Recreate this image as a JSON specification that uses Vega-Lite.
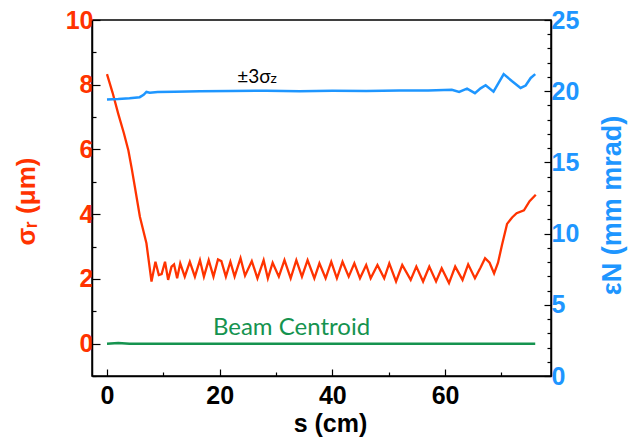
{
  "$schema": "https://vega.github.io/schema/vega-lite/v6.json",
  "width": 459,
  "height": 356,
  "autosize": {"type": "none"},
  "padding": {"left": 92, "top": 20, "right": 77, "bottom": 67},
  "background": "white",
  "config": {
    "view": {"stroke": "black", "strokeWidth": 1.5},
    "axis": {
      "grid": false,
      "domainColor": "black",
      "domainWidth": 1.5,
      "tickColor": "black",
      "tickWidth": 1.2,
      "labelFont": "Liberation Sans",
      "labelFontWeight": "bold",
      "labelFontSize": 25,
      "titleFont": "Liberation Sans",
      "titleFontWeight": "bold",
      "titleFontSize": 26
    }
  },
  "datasets": {
    "red": [
      {"s": 0, "sigma": 8.33}, {"s": 1, "sigma": 7.75}, {"s": 2, "sigma": 7.1}, {"s": 3, "sigma": 6.5},
      {"s": 3.8, "sigma": 5.97}, {"s": 4.4, "sigma": 5.4}, {"s": 4.95, "sigma": 4.84}, {"s": 5.84, "sigma": 3.92},
      {"s": 7.0, "sigma": 3.1}, {"s": 7.9, "sigma": 1.92}, {"s": 8.6, "sigma": 2.53}, {"s": 9.2, "sigma": 2.12},
      {"s": 9.7, "sigma": 2.15}, {"s": 10.3, "sigma": 2.53}, {"s": 10.85, "sigma": 1.97}, {"s": 11.45, "sigma": 2.38},
      {"s": 11.9, "sigma": 2.45}, {"s": 12.45, "sigma": 2.02}, {"s": 13.0, "sigma": 2.48}, {"s": 13.8, "sigma": 2.07},
      {"s": 14.7, "sigma": 2.53}, {"s": 15.6, "sigma": 2.07}, {"s": 16.5, "sigma": 2.58}, {"s": 17.2, "sigma": 2.07},
      {"s": 18.05, "sigma": 2.58}, {"s": 18.9, "sigma": 2.07}, {"s": 19.7, "sigma": 2.6}, {"s": 20.3, "sigma": 2.55},
      {"s": 21.1, "sigma": 2.07}, {"s": 21.9, "sigma": 2.53}, {"s": 22.65, "sigma": 2.07}, {"s": 23.7, "sigma": 2.64},
      {"s": 24.5, "sigma": 2.1}, {"s": 25.7, "sigma": 2.55}, {"s": 26.7, "sigma": 2.02}, {"s": 27.8, "sigma": 2.58},
      {"s": 28.55, "sigma": 2.02}, {"s": 29.4, "sigma": 2.5}, {"s": 30.5, "sigma": 2.07}, {"s": 31.5, "sigma": 2.58},
      {"s": 32.6, "sigma": 2.02}, {"s": 33.6, "sigma": 2.58}, {"s": 34.6, "sigma": 2.07}, {"s": 35.6, "sigma": 2.58},
      {"s": 36.8, "sigma": 2.02}, {"s": 37.7, "sigma": 2.48}, {"s": 38.8, "sigma": 2.02}, {"s": 39.8, "sigma": 2.53},
      {"s": 40.8, "sigma": 2.02}, {"s": 41.8, "sigma": 2.53}, {"s": 42.9, "sigma": 2.07}, {"s": 43.9, "sigma": 2.48},
      {"s": 44.9, "sigma": 2.02}, {"s": 46.0, "sigma": 2.43}, {"s": 46.8, "sigma": 2.02}, {"s": 48.0, "sigma": 2.43},
      {"s": 49.2, "sigma": 2.02}, {"s": 50.1, "sigma": 2.48}, {"s": 51.3, "sigma": 1.92}, {"s": 52.4, "sigma": 2.43},
      {"s": 53.9, "sigma": 1.97}, {"s": 54.9, "sigma": 2.38}, {"s": 56.1, "sigma": 1.92}, {"s": 57.2, "sigma": 2.38},
      {"s": 58.4, "sigma": 1.92}, {"s": 59.4, "sigma": 2.33}, {"s": 60.7, "sigma": 1.87}, {"s": 61.8, "sigma": 2.38},
      {"s": 63.1, "sigma": 1.97}, {"s": 64.1, "sigma": 2.45}, {"s": 65.3, "sigma": 2.02}, {"s": 66.3, "sigma": 2.35},
      {"s": 67.1, "sigma": 2.64}, {"s": 67.9, "sigma": 2.5}, {"s": 68.7, "sigma": 2.17}, {"s": 69.4, "sigma": 2.5},
      {"s": 70.1, "sigma": 3.05}, {"s": 71.0, "sigma": 3.7}, {"s": 71.9, "sigma": 3.9}, {"s": 72.7, "sigma": 4.03},
      {"s": 74.0, "sigma": 4.12}, {"s": 75.0, "sigma": 4.4}, {"s": 76.1, "sigma": 4.6}
    ],
    "blue": [
      {"s": 0, "eps": 19.42}, {"s": 2, "eps": 19.45}, {"s": 4, "eps": 19.5}, {"s": 5.8, "eps": 19.58},
      {"s": 6.5, "eps": 19.75}, {"s": 7.0, "eps": 19.95}, {"s": 7.6, "eps": 19.9}, {"s": 9, "eps": 19.95},
      {"s": 12, "eps": 19.97}, {"s": 16.5, "eps": 20.0}, {"s": 22, "eps": 20.02}, {"s": 28.3, "eps": 20.03},
      {"s": 34.2, "eps": 20.0}, {"s": 40, "eps": 20.03}, {"s": 46, "eps": 20.02}, {"s": 51.9, "eps": 20.05},
      {"s": 57, "eps": 20.05}, {"s": 61.2, "eps": 20.1}, {"s": 62.5, "eps": 19.95}, {"s": 63.9, "eps": 20.18},
      {"s": 65.3, "eps": 19.86}, {"s": 66.3, "eps": 20.2}, {"s": 67.2, "eps": 20.42}, {"s": 68.6, "eps": 19.97},
      {"s": 70.4, "eps": 21.2}, {"s": 71.9, "eps": 20.7}, {"s": 73.4, "eps": 20.23}, {"s": 74.3, "eps": 20.4},
      {"s": 75.2, "eps": 20.93}, {"s": 76.0, "eps": 21.2}
    ],
    "green": [
      {"s": 0, "sigma": 0}, {"s": 2, "sigma": 0.02}, {"s": 4, "sigma": 0}, {"s": 76, "sigma": 0}
    ]
  },
  "layer": [
    {
      "layer": [
        {
          "data": {"name": "green"},
          "mark": {"type": "line", "color": "#15934f", "strokeWidth": 2.5},
          "encoding": {}
        },
        {
          "data": {"name": "red"},
          "mark": {"type": "line", "color": "#ff3300", "strokeWidth": 2.3},
          "encoding": {}
        },
        {
          "data": {"values": [{"s": 23.1, "sigma": 8.06, "label": "±3σ"}]},
          "mark": {"type": "text", "align": "left", "baseline": "alphabetic", "font": "Lato", "fontSize": 19, "color": "black"},
          "encoding": {"text": {"field": "label"}}
        },
        {
          "data": {"values": [{"s": 29.0, "sigma": 8.06, "label": "z"}]},
          "mark": {"type": "text", "align": "left", "baseline": "alphabetic", "font": "Lato", "fontSize": 14, "color": "black"},
          "encoding": {"text": {"field": "label"}}
        },
        {
          "data": {"values": [{"s": 18.8, "sigma": 0.27, "label": "Beam Centroid"}]},
          "mark": {"type": "text", "align": "left", "baseline": "alphabetic", "font": "Lato", "fontSize": 24, "color": "#15934f"},
          "encoding": {"text": {"field": "label"}}
        }
      ],
      "encoding": {
        "x": {
          "field": "s", "type": "quantitative",
          "scale": {"domain": [-2.66, 78.8], "nice": false, "zero": false},
          "axis": {
            "orient": "bottom",
            "values": [0, 5, 10, 15, 20, 25, 30, 35, 40, 45, 50, 55, 60, 65, 70, 75],
            "format": "d",
            "labelExpr": "datum.value % 20 === 0 ? datum.label : ''",
            "tickSize": {"condition": {"test": "datum.value % 20 === 0", "value": -7}, "value": -4},
            "labelPadding": 14,
            "labelColor": "black",
            "title": "s (cm)",
            "titleColor": "black",
            "titleFontSize": 25,
            "titleX": 238,
            "titleY": 35,
            "titleAlign": "center",
            "titleBaseline": "top"
          }
        },
        "y": {
          "field": "sigma", "type": "quantitative",
          "scale": {"domain": [-1, 10], "nice": false, "zero": false},
          "axis": {
            "orient": "left",
            "values": [-1, -0.5, 0, 0.5, 1, 1.5, 2, 2.5, 3, 3.5, 4, 4.5, 5, 5.5, 6, 6.5, 7, 7.5, 8, 8.5, 9, 9.5, 10],
            "format": "d",
            "labelExpr": "datum.value % 2 === 0 ? datum.label : ''",
            "tickSize": {"condition": {"test": "datum.value % 2 === 0", "value": -8}, "value": -4},
            "labelPadding": 7,
            "labelColor": "#ff3300",
            "title": "σᵣ (μm)",
            "titleColor": "#ff3300",
            "titleAngle": -90,
            "titleX": -66,
            "titleY": 181,
            "titleAlign": "center",
            "titleBaseline": "middle"
          }
        }
      }
    },
    {
      "data": {"name": "blue"},
      "mark": {"type": "line", "color": "#1e96ff", "strokeWidth": 2.5},
      "encoding": {
        "x": {"field": "s", "type": "quantitative", "scale": {"domain": [-2.66, 78.8], "nice": false, "zero": false}},
        "y": {
          "field": "eps", "type": "quantitative",
          "scale": {"domain": [0, 25], "nice": false, "zero": false},
          "axis": {
            "orient": "right",
            "values": [0, 1, 2, 3, 4, 5, 6, 7, 8, 9, 10, 11, 12, 13, 14, 15, 16, 17, 18, 19, 20, 21, 22, 23, 24, 25],
            "format": "d",
            "labelExpr": "datum.value % 5 === 0 ? datum.label : ''",
            "tickSize": {"condition": {"test": "datum.value % 5 === 0", "value": -7}, "value": -4},
            "labelPadding": 7,
            "labelColor": "#1e96ff",
            "title": "εN (mm mrad)",
            "titleColor": "#1e96ff",
            "titleFontSize": 27,
            "titleAngle": -90,
            "titleX": 61,
            "titleY": 185,
            "titleAlign": "center",
            "titleBaseline": "middle"
          }
        }
      }
    }
  ],
  "resolve": {"scale": {"y": "independent"}}
}
